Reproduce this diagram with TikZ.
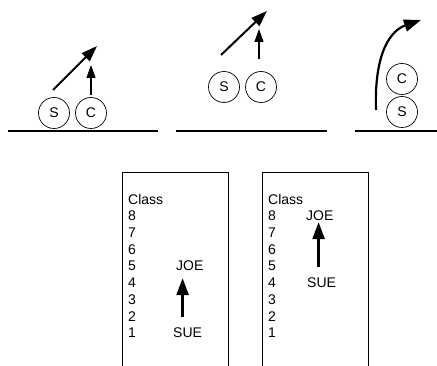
\documentclass[tikz,border=0pt]{standalone}
\usepackage{fontspec}
\setmainfont{Liberation Sans}
\usetikzlibrary{arrows.meta}
\tikzset{
    ball/.style = {draw, circle, line width=0.7pt, minimum size=31pt, inner sep=0pt, font=\fontsize{14}{16.8}\selectfont},
    ground/.style = {line width=1.1pt},
    row-text/.style = {anchor=west, inner sep=0pt, font=\fontsize{14}{16.8}\selectfont},
    rank-box/.style = {line width=0.8pt},
    push-arrow/.style = {line width=2pt, -{Triangle[length=16pt,width=11pt]}},
    lift-arrow/.style = {line width=1.2pt, -{Triangle[length=13pt,width=9pt]}},
    rank-arrow/.style = {line width=2.6pt, -{Triangle[length=17pt,width=12pt]}},
}
\begin{document}
\begin{tikzpicture}[x=1pt,y=-1pt]
\useasboundingbox (0,0) rectangle (437,366);

% first picture: both on the ground
\draw[ground] (8,131) -- (158,131);
\node[ball] (s1) at (54,113) {S};
\node[ball] (c1) at (91,113) {C};
\coordinate (s1from) at (53,90);
\coordinate (s1to) at (97,46);
\coordinate (c1from) at (91,95);
\coordinate (c1to) at (91,65);
\draw[push-arrow] (s1from) -- (s1to);
\draw[lift-arrow] (c1from) -- (c1to);

% second picture: both lifted
\draw[ground] (176,131) -- (327,131);
\node[ball] (s2) at (224,87) {S};
\node[ball] (c2) at (261,87) {C};
\coordinate (s2from) at (221,55);
\coordinate (s2to) at (267,11);
\coordinate (c2from) at (259,59);
\coordinate (c2to) at (259,29);
\draw[push-arrow] (s2from) -- (s2to);
\draw[lift-arrow] (c2from) -- (c2to);

% third picture: stacked
\draw[ground] (355,131) -- (437,131);
\node[ball] (c3) at (402,79) {C};
\node[ball] (s3) at (402,112) {S};
\coordinate (curvefrom) at (376,110);
\coordinate (curveto) at (421,20);
\draw[rank-arrow, line width=2.2pt] (curvefrom) .. controls (374,50) and (392,30) .. (curveto);

% class tables
\draw[rank-box] (122,367) -- (122,172) -- (228,172) -- (228,367);
\draw[rank-box] (262,367) -- (262,172) -- (368,172) -- (368,367);
\node[row-text] (classa) at (128,199) {Class};
\node[row-text] (classb) at (268,199) {Class};
\foreach \n [count=\i] in {8,7,...,1} {
    \node[row-text] (rowa\n) at (128,{199+16.75*\i}) {\n};
    \node[row-text] (rowb\n) at (268,{199+16.75*\i}) {\n};
}
\node[row-text] (joe1) at (176,266) {JOE};
\node[row-text] (sue1) at (173,333) {SUE};
\node[row-text] (joe2) at (306,216) {JOE};
\node[row-text] (sue2) at (307,283) {SUE};
\draw[rank-arrow, shorten <=11pt, shorten >=7pt] ([xshift=-5pt]sue1.north) -- ([xshift=-5pt]sue1.north |- joe1.south);
\draw[rank-arrow, shorten <=11pt, shorten >=1pt] ([xshift=-3pt]sue2.north) -- ([xshift=-3pt]sue2.north |- joe2.south);
\end{tikzpicture}
\end{document}
